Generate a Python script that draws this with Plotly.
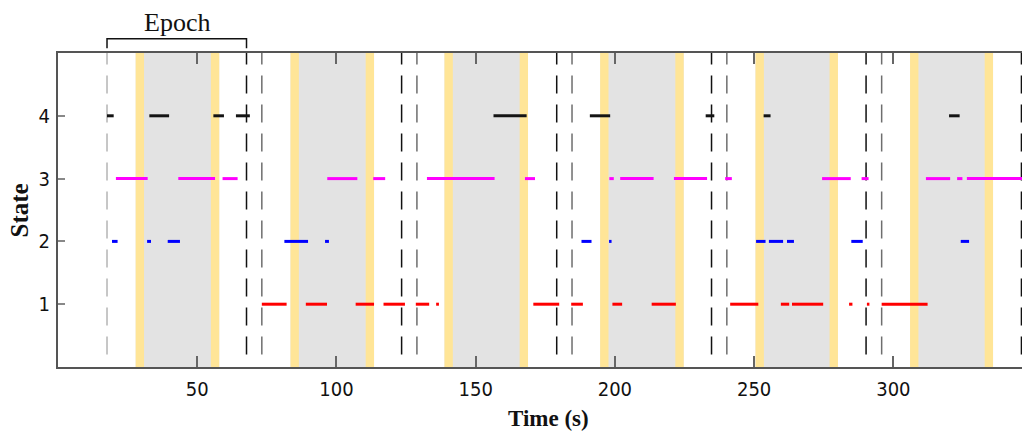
import plotly.graph_objects as go

# Time axis ticks
x_ticks = [50, 100, 150, 200, 250, 300]
y_ticks = [1, 2, 3, 4]

# Stimulus windows (s): shaded from onset to offset, with a short yellow band at each edge
stim_on = [27.9, 83.5, 138.8, 194.7, 250.5, 306.0]
stim_off = [57.9, 113.5, 168.8, 224.7, 280.1, 335.8]
edge_band = 3.0

# Epoch boundary markers (s)
marker_black = [67.7, 123.4, 179.1, 234.7, 290.2, 346.0]
marker_gray = [73.2, 128.9, 184.6, 240.2, 295.8]
marker_first = [17.6]

# Epoch bracket span (s)
epoch_span = [17.6, 67.7]

# Occupancy intervals (start, end) in seconds for each state
state4 = [(17.6, 20.0), (32.8, 39.9), (55.8, 59.6), (63.9, 68.9), (156.4, 168.3),
          (191.0, 198.3), (232.6, 235.7), (253.4, 255.9), (320.0, 323.8)]
state3 = [(20.8, 32.2), (43.2, 56.4), (59.1, 64.5), (96.7, 107.5), (113.2, 117.5),
          (132.5, 156.8), (167.7, 171.3), (198.0, 199.6), (201.9, 213.9), (221.2, 233.1),
          (239.6, 242.0), (274.4, 284.7), (288.6, 291.1), (311.7, 320.4), (322.9, 324.8),
          (326.4, 346.2)]
state2 = [(19.4, 21.4), (32.0, 33.4), (39.4, 43.8), (81.3, 89.8), (95.9, 97.3),
          (188.0, 191.6), (197.9, 198.8), (250.7, 254.1), (255.3, 260.4), (261.8, 264.3),
          (284.9, 289.0), (324.2, 327.2)]
state1 = [(73.2, 82.1), (89.0, 96.6), (106.9, 113.5), (116.9, 124.6), (128.5, 133.3),
          (135.8, 136.8), (170.7, 180.0), (184.3, 188.5), (199.1, 202.6), (213.2, 221.9),
          (241.4, 251.5), (259.6, 262.6), (263.6, 274.8), (284.1, 285.3), (290.5, 291.4),
          (295.8, 312.3)]

states = [(4, state4, "#141414"), (3, state3, "#ff00ff"),
          (2, state2, "#0000ff"), (1, state1, "#ff0000")]

X_MAX = 346.2
SERIF = "Liberation Serif, Times New Roman, serif"
NARROW = "Liberation Sans Narrow, DejaVu Sans Condensed, Arial Narrow, sans-serif"

fig = go.Figure()

# Stimulus shading
shapes = []
for on, off in zip(stim_on, stim_off):
    shapes.append(dict(type="rect", xref="x", yref="y", x0=on, x1=off, y0=0, y1=5,
                       fillcolor="#e3e3e3", line_width=0, layer="below"))
    for b0 in (on, off - edge_band):
        shapes.append(dict(type="rect", xref="x", yref="y", x0=b0, x1=b0 + edge_band,
                           y0=0, y1=5, fillcolor="#ffe597", line_width=0, layer="below"))

# Dashed epoch markers, drawn from the bottom up so the dash pattern starts there
def vmarker(x, color):
    return dict(type="line", xref="x", yref="y", x0=x, x1=x, y0=0.2, y1=5,
                line=dict(color=color, width=1.5, dash="18px,11px"), layer="below")

for x in marker_first:
    shapes.append(vmarker(x, "#b4b4b4"))
for x in marker_black:
    shapes.append(vmarker(x, "#111111"))
for x in marker_gray:
    shapes.append(vmarker(x, "#6e6e6e"))

# Epoch bracket above the plot
br_top, br_bot = 1.0455, 1.015
shapes.append(dict(type="path", xref="x", yref="paper",
                   path=f"M {epoch_span[0]},{br_bot} L {epoch_span[0]},{br_top} "
                        f"L {epoch_span[1]},{br_top} L {epoch_span[1]},{br_bot}",
                   line=dict(color="#111111", width=1.5)))

# State occupancy segments
for level, segs, color in states:
    xs, ys = [], []
    for a, b in segs:
        xs += [a, b, None]
        ys += [level, level, None]
    fig.add_trace(go.Scatter(x=xs, y=ys, mode="lines", showlegend=False,
                             line=dict(color=color, width=3), hoverinfo="skip",
                             connectgaps=False))

annotations = [
    dict(text="Epoch", xref="x", yref="paper", x=sum(epoch_span) / 2, y=1.0455,
         yanchor="bottom", xanchor="center", showarrow=False, yshift=0,
         font=dict(family=SERIF, size=26, color="#111")),
    dict(text="<b>Time (s)</b>", xref="paper", yref="paper", x=0.509, y=-0.163,
         xanchor="center", yanchor="middle", showarrow=False,
         font=dict(family=SERIF, size=23, color="#111")),
    dict(text="<b>State</b>", xref="paper", yref="paper", x=-0.040, y=0.5,
         xanchor="center", yanchor="middle", showarrow=False, textangle=-90,
         font=dict(family=SERIF, size=25, color="#111")),
]

fig.update_layout(
    width=1022, height=432,
    margin=dict(l=58, r=0, t=53, b=65),
    paper_bgcolor="white", plot_bgcolor="white",
    shapes=shapes, annotations=annotations,
    showlegend=False,
    xaxis=dict(range=[0, X_MAX], tickvals=x_ticks, ticks="inside", ticklen=11,
               tickwidth=1.5, tickcolor="#666", showline=True, linecolor="#555",
               linewidth=2, mirror="ticks", showgrid=False, zeroline=False,
               tickfont=dict(family=NARROW, size=20, color="#111"),
               ticklabelstandoff=3),
    yaxis=dict(range=[0, 5], tickvals=y_ticks, ticks="inside", ticklen=7,
               tickwidth=1.5, tickcolor="#888", showline=True, linecolor="#555",
               linewidth=2, mirror=False, showgrid=False, zeroline=False,
               tickfont=dict(family=NARROW, size=20, color="#111"),
               ticklabelstandoff=2),
)

fig.write_html("out.html")
